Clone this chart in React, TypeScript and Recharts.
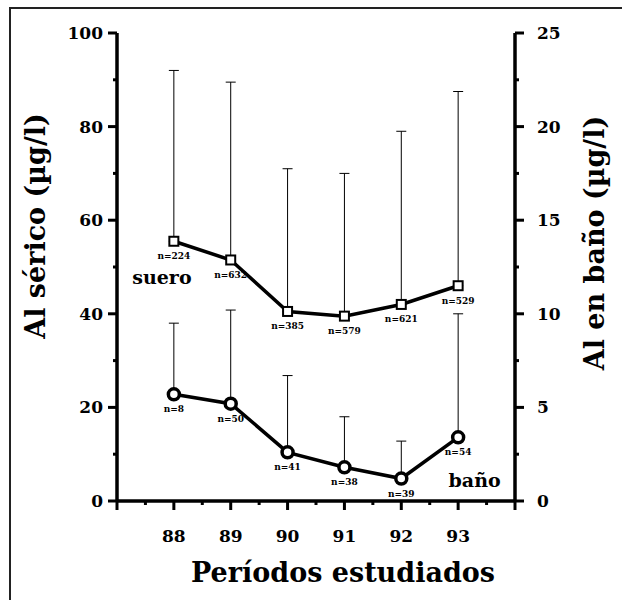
import React from "react";
import {
  ComposedChart,
  Line,
  XAxis,
  YAxis,
  ErrorBar,
  LabelList,
  ReferenceDot,
} from "recharts";

// values
const years = [88, 89, 90, 91, 92, 93];
const sueroMean = [55.5, 51.5, 40.5, 39.5, 42, 46];
const sueroUpper = [92, 89.5, 71, 70, 79, 87.5];
const sueroN = [224, 632, 385, 579, 621, 529];
const banoMean = [5.7, 5.2, 2.6, 1.8, 1.2, 3.4];
const banoUpper = [9.5, 10.2, 6.7, 4.5, 3.2, 10.0];
const banoN = [8, 50, 41, 38, 39, 54];

const xTicks = [87, 87.5, 88, 88.5, 89, 89.5, 90, 90.5, 91, 91.5, 92, 92.5, 93, 93.5, 94];
const leftTicks = [0, 10, 20, 30, 40, 50, 60, 70, 80, 90, 100];
const rightTicks = [0, 2.5, 5, 7.5, 10, 12.5, 15, 17.5, 20, 22.5, 25];

// series tags, in data units
const sueroTag = { x: 87.79, y: 47.9 };
const banoTag = { x: 93.29, y: 1.12 };

const data = years.map((year, i) => ({
  year,
  suero: sueroMean[i],
  sueroErr: [0, sueroUpper[i] - sueroMean[i]],
  sueroN: sueroN[i],
  bano: banoMean[i],
  banoErr: [0, banoUpper[i] - banoMean[i]],
  banoN: banoN[i],
}));

const W = 622;
const H = 600;
const LEFT_W = 117;
const RIGHT_W = 107;
const TOP = 33;
const XAXIS_H = 99;
const AX_LEFT = LEFT_W;
const AX_RIGHT = W - RIGHT_W;
const AX_BOTTOM = H - XAXIS_H;

const FONT = "'DejaVu Serif', serif";
const INK = "#000";
const MAJOR = 9;
const MINOR = 4;

function LeftTick({ y, payload }: any) {
  const major = payload.value % 20 === 0;
  return (
    <g>
      <line x1={AX_LEFT} x2={AX_LEFT - (major ? MAJOR : MINOR)} y1={y} y2={y} stroke={INK} strokeWidth={3} />
      {major && (
        <text x={AX_LEFT - 14} y={y} dy={6} textAnchor="end" fontFamily={FONT} fontWeight="bold" fontSize={17} fill={INK}>
          {payload.value}
        </text>
      )}
    </g>
  );
}

function RightTick({ y, payload }: any) {
  const major = payload.value % 5 === 0;
  return (
    <g>
      <line x1={AX_RIGHT} x2={AX_RIGHT + (major ? MAJOR : MINOR)} y1={y} y2={y} stroke={INK} strokeWidth={3} />
      {major && (
        <text x={AX_RIGHT + 22} y={y} dy={6} textAnchor="start" fontFamily={FONT} fontWeight="bold" fontSize={17} fill={INK}>
          {payload.value}
        </text>
      )}
    </g>
  );
}

function BottomTick({ x, payload }: any) {
  const v = payload.value;
  const major = Number.isInteger(v);
  const labelled = years.includes(v);
  return (
    <g>
      <line x1={x} x2={x} y1={AX_BOTTOM} y2={AX_BOTTOM + (major ? MAJOR : MINOR)} stroke={INK} strokeWidth={3} />
      {labelled && (
        <text x={x} y={AX_BOTTOM + 41} textAnchor="middle" fontFamily={FONT} fontWeight="bold" fontSize={17} fill={INK}>
          {v}
        </text>
      )}
    </g>
  );
}

function LeftTitle({ viewBox }: any) {
  const cx = viewBox.x + 35;
  const cy = viewBox.y + viewBox.height / 2 - 41;
  return (
    <text x={cx} y={cy} transform={`rotate(-90 ${cx} ${cy})`} textAnchor="middle" dominantBaseline="central" fontFamily={FONT} fontWeight="bold" fontSize={27} fill={INK}>
      Al sérico (µg/l)
    </text>
  );
}

function RightTitle({ viewBox }: any) {
  const cx = viewBox.x + 79;
  const cy = viewBox.y + viewBox.height / 2 - 24;
  return (
    <text x={cx} y={cy} transform={`rotate(-90 ${cx} ${cy})`} textAnchor="middle" dominantBaseline="central" fontFamily={FONT} fontWeight="bold" fontSize={27} fill={INK}>
      Al en baño (µg/l)
    </text>
  );
}

function BottomTitle({ viewBox }: any) {
  const cx = viewBox.x + viewBox.width / 2 + 27;
  return (
    <text x={cx} y={AX_BOTTOM + 81} textAnchor="middle" fontFamily={FONT} fontWeight="bold" fontSize={27} fill={INK}>
      Períodos estudiados
    </text>
  );
}

function SquareDot({ cx, cy, index }: any) {
  if (cx == null || cy == null) return null;
  return <rect key={`sq-${index}`} x={cx - 4.5} y={cy - 4.5} width={9} height={9} fill="#fff" stroke={INK} strokeWidth={2} />;
}

function RingDot({ cx, cy, index }: any) {
  if (cx == null || cy == null) return null;
  return <circle key={`ci-${index}`} cx={cx} cy={cy} r={5.5} fill="#fff" stroke={INK} strokeWidth={3.5} />;
}

function CountLabel({ x, y, value }: any) {
  return (
    <text x={x} y={y + 15} dy={3} textAnchor="middle" fontFamily={FONT} fontWeight="bold" fontSize={9} fill={INK}>
      {`n=${value}`}
    </text>
  );
}

const tagStyle = { fontFamily: FONT, fontWeight: "bold", fontSize: 19, fill: INK };

export default function App() {
  return (
    <div style={{ position: "absolute", left: 0, top: 0, width: W, height: H, background: "#fff" }}>
      <div
        style={{
          position: "absolute",
          left: 9,
          top: 7,
          right: 0,
          bottom: 0,
          borderTop: "2px solid #222",
          borderLeft: "2px solid #222",
        }}
      />
      <div style={{ position: "absolute", left: 0, top: 0 }}>
        <ComposedChart width={W} height={H} data={data} margin={{ top: TOP, right: 0, bottom: 0, left: 0 }}>
          <XAxis
            type="number"
            dataKey="year"
            domain={[87, 94]}
            ticks={xTicks}
            interval={0}
            height={XAXIS_H}
            tickLine={false}
            axisLine={{ stroke: INK, strokeWidth: 3.5 }}
            tick={<BottomTick />}
            label={<BottomTitle />}
          />
          <YAxis
            yAxisId="left"
            domain={[0, 100]}
            ticks={leftTicks}
            interval={0}
            width={LEFT_W}
            tickLine={false}
            axisLine={{ stroke: INK, strokeWidth: 3.5 }}
            tick={<LeftTick />}
            label={<LeftTitle />}
          />
          <YAxis
            yAxisId="right"
            orientation="right"
            domain={[0, 25]}
            ticks={rightTicks}
            interval={0}
            width={RIGHT_W}
            tickLine={false}
            axisLine={{ stroke: INK, strokeWidth: 3.5 }}
            tick={<RightTick />}
            label={<RightTitle />}
          />

          {/* error whiskers first so the markers sit on top */}
          <Line yAxisId="left" dataKey="suero" stroke="none" dot={false} activeDot={false} isAnimationActive={false}>
            <ErrorBar dataKey="sueroErr" direction="y" width={5} stroke={INK} strokeWidth={1} />
          </Line>
          <Line yAxisId="right" dataKey="bano" stroke="none" dot={false} activeDot={false} isAnimationActive={false}>
            <ErrorBar dataKey="banoErr" direction="y" width={5} stroke={INK} strokeWidth={1} />
          </Line>

          <Line
            yAxisId="left"
            dataKey="suero"
            type="linear"
            stroke={INK}
            strokeWidth={3.5}
            dot={SquareDot}
            activeDot={false}
            isAnimationActive={false}
          >
            <LabelList dataKey="sueroN" content={CountLabel} />
          </Line>
          <Line
            yAxisId="right"
            dataKey="bano"
            type="linear"
            stroke={INK}
            strokeWidth={3.5}
            dot={RingDot}
            activeDot={false}
            isAnimationActive={false}
          >
            <LabelList dataKey="banoN" content={CountLabel} />
          </Line>

          <ReferenceDot
            yAxisId="left"
            x={sueroTag.x}
            y={sueroTag.y}
            r={0}
            stroke="none"
            label={{ value: "suero", position: "center", style: tagStyle }}
          />
          <ReferenceDot
            yAxisId="right"
            x={banoTag.x}
            y={banoTag.y}
            r={0}
            stroke="none"
            label={{ value: "baño", position: "center", style: tagStyle }}
          />
        </ComposedChart>
      </div>
    </div>
  );
}
